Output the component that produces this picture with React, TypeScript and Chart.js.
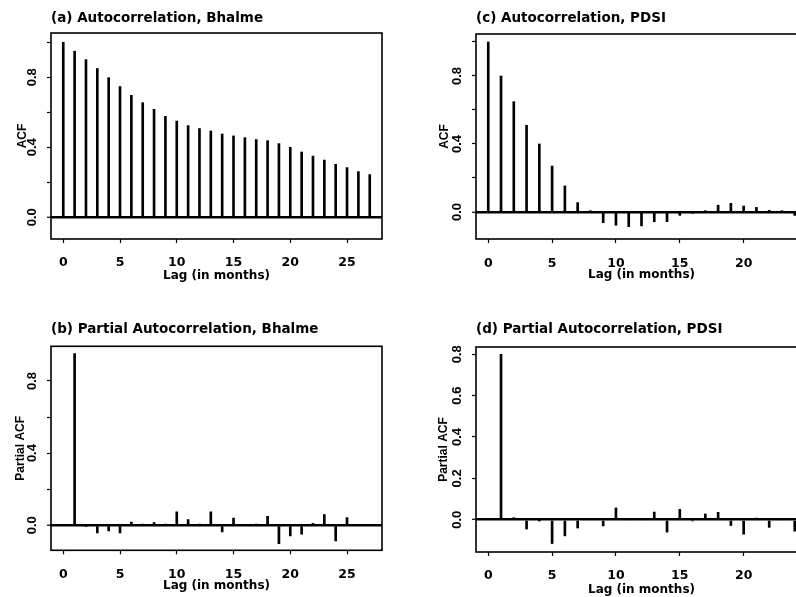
import React, { useEffect, useRef } from 'react';
import { Chart, registerables } from 'chart.js';

Chart.register(...registerables);

// ---------- data ----------
const lagsBhalmeAcf = [0, 1, 2, 3, 4, 5, 6, 7, 8, 9, 10, 11, 12, 13, 14, 15, 16, 17, 18, 19, 20, 21, 22, 23, 24, 25, 26, 27];
const acfBhalme = [1.0, 0.949, 0.901, 0.85, 0.798, 0.747, 0.697, 0.655, 0.617, 0.577, 0.55, 0.524, 0.507, 0.493, 0.476, 0.465, 0.455, 0.444, 0.438, 0.421, 0.4, 0.373, 0.35, 0.327, 0.303, 0.284, 0.261, 0.244];

const lagsBhalmePacf = [1, 2, 3, 4, 5, 6, 7, 8, 9, 10, 11, 12, 13, 14, 15, 16, 17, 18, 19, 20, 21, 22, 23, 24, 25];
const pacfBhalme = [0.951, -0.005, -0.043, -0.032, -0.043, 0.018, 0.003, 0.015, 0.002, 0.074, 0.031, 0.005, 0.074, -0.037, 0.04, 0.0, 0.002, 0.05, -0.102, -0.059, -0.05, 0.01, 0.059, -0.087, 0.042];

const lagsPdsiAcf = [0, 1, 2, 3, 4, 5, 6, 7, 8, 9, 10, 11, 12, 13, 14, 15, 16, 17, 18, 19, 20, 21, 22, 23, 24];
const acfPdsi = [1.0, 0.8, 0.649, 0.51, 0.4, 0.27, 0.153, 0.055, 0.005, -0.063, -0.078, -0.086, -0.082, -0.057, -0.057, -0.02, -0.005, 0.005, 0.04, 0.051, 0.035, 0.027, 0.01, 0.003, -0.02];

const lagsPdsiPacf = [1, 2, 3, 4, 5, 6, 7, 8, 9, 10, 11, 12, 13, 14, 15, 16, 17, 18, 19, 20, 21, 22, 23, 24];
const pacfPdsi = [0.8, 0.01, -0.045, -0.003, -0.115, -0.078, -0.04, 0.005, -0.03, 0.057, 0.0, 0.0, 0.037, -0.06, 0.05, -0.005, 0.028, 0.036, -0.028, -0.07, 0.008, -0.037, 0.0, -0.055];

const titles = [
  '(a) Autocorrelation, Bhalme',
  '(b) Partial Autocorrelation, Bhalme',
  '(c) Autocorrelation, PDSI',
  '(d) Partial Autocorrelation, PDSI',
];
const yTitles = ['ACF', 'Partial ACF', 'ACF', 'Partial ACF'];
const xTitle = 'Lag (in months)';
const yLabelsSparse = ['0.0', '0.4', '0.8'];
const yLabelsFull = ['0.0', '0.2', '0.4', '0.6', '0.8'];

// ---------- layout (positions / styles) ----------
type Spec = {
  title: string; yTitle: string; lags: number[]; values: number[]; yLabels: string[];
  left: number; top: number; w: number; h: number;
  xMin: number; xMax: number; yMin: number; yMax: number;
  yAxisW: number; xAxisH: number; padRight: number;
  titlePadTop: number; titlePadBottom: number;
  yTitlePad: number; xTitlePadBottom: number; xTickPad: number;
};

const specs: Spec[] = [
  {
    title: titles[0], yTitle: yTitles[0], lags: lagsBhalmeAcf, values: acfBhalme, yLabels: yLabelsSparse,
    left: 0, top: 0, w: 400, h: 297, xMin: -1.08, xMax: 28.08, yMin: -0.124, yMax: 1.053,
    yAxisW: 51, xAxisH: 58, padRight: 18, titlePadTop: 9.9, titlePadBottom: 6.9,
    yTitlePad: 15.3, xTitlePadBottom: 14.3, xTickPad: 12.5,
  },
  {
    title: titles[1], yTitle: yTitles[1], lags: lagsBhalmePacf, values: pacfBhalme, yLabels: yLabelsSparse,
    left: 0, top: 297, w: 400, h: 300, xMin: -1.08, xMax: 28.08, yMin: -0.139, yMax: 0.992,
    yAxisW: 51, xAxisH: 46.7, padRight: 18, titlePadTop: 24.4, titlePadBottom: 8.7,
    yTitlePad: 13.8, xTitlePadBottom: 3.8, xTickPad: 12.5,
  },
  {
    title: titles[2], yTitle: yTitles[2], lags: lagsPdsiAcf, values: acfPdsi, yLabels: yLabelsSparse,
    left: 400, top: 0, w: 420, h: 297, xMin: -0.96, xMax: 24.96, yMin: -0.159, yMax: 1.047,
    yAxisW: 76, xAxisH: 58, padRight: 13, titlePadTop: 9.9, titlePadBottom: 7.9,
    yTitlePad: 37.8, xTitlePadBottom: 14.8, xTickPad: 13.5,
  },
  {
    title: titles[3], yTitle: yTitles[3], lags: lagsPdsiPacf, values: pacfPdsi, yLabels: yLabelsFull,
    left: 400, top: 297, w: 420, h: 300, xMin: -0.96, xMax: 24.96, yMin: -0.156, yMax: 0.835,
    yAxisW: 76, xAxisH: 45, padRight: 13, titlePadTop: 24.4, titlePadBottom: 9.4,
    yTitlePad: 36.8, xTitlePadBottom: 0, xTickPad: 11.8,
  },
];

const boxPlugin = {
  id: 'plotBox',
  afterDatasetsDraw(chart: any) {
    const { ctx, chartArea } = chart;
    const { left, top, right, bottom } = chartArea;
    ctx.save();
    ctx.strokeStyle = '#000';
    ctx.lineWidth = 1.6;
    ctx.strokeRect(left, top, right - left, bottom - top);
    ctx.restore();
  },
};

const isZero = (v: number) => Math.abs(v) < 1e-9;

function Panel({ spec }: { spec: Spec }) {
  const ref = useRef<HTMLCanvasElement | null>(null);
  useEffect(() => {
    if (!ref.current) return;
    const chart = new Chart(ref.current, {
      type: 'bar',
      data: {
        datasets: [
          {
            data: spec.lags.map((lag, i) => ({ x: lag, y: spec.values[i] })),
            backgroundColor: '#000',
            borderWidth: 0,
            barThickness: 2,
            grouped: false,
          } as any,
        ],
      },
      options: {
        animation: false,
        responsive: false,
        devicePixelRatio: 1,
        events: [],
        layout: { padding: { left: 0, top: 0, right: spec.padRight, bottom: 0 } },
        plugins: {
          legend: { display: false },
          tooltip: { enabled: false },
          title: {
            display: true,
            text: spec.title,
            align: 'start',
            fullSize: false,
            color: '#000',
            font: { family: 'DejaVu Sans', weight: 'bold', size: 13.5 },
            padding: { top: spec.titlePadTop, bottom: spec.titlePadBottom },
          },
        },
        scales: {
          x: {
            type: 'linear',
            min: spec.xMin,
            max: spec.xMax,
            offset: false,
            afterFit: (s: any) => { s.height = spec.xAxisH; },
            ticks: {
              stepSize: 5,
              includeBounds: false,
              autoSkip: false,
              maxRotation: 0,
              minRotation: 0,
              padding: spec.xTickPad,
              color: '#000',
              font: { family: 'DejaVu Sans', weight: 'bold', size: 12.5 },
              callback: (v: any) => String(Math.round(Number(v))),
            },
            grid: {
              drawOnChartArea: false,
              offset: false,
              tickLength: 4,
              tickWidth: 1.2,
              tickColor: '#000',
              color: '#000',
            },
            border: { display: false },
            title: {
              display: true,
              text: xTitle,
              color: '#000',
              font: { family: 'DejaVu Sans', weight: 'bold', size: 12 },
              padding: { top: 0, bottom: spec.xTitlePadBottom },
            },
          } as any,
          y: {
            type: 'linear',
            min: spec.yMin,
            max: spec.yMax,
            afterFit: (s: any) => { s.width = spec.yAxisW; },
            ticks: {
              stepSize: 0.2,
              includeBounds: false,
              autoSkip: false,
              minRotation: 90,
              maxRotation: 90,
              crossAlign: 'center',
              padding: 5.5,
              color: '#000',
              font: { family: 'Liberation Sans', weight: 'bold', size: 13 },
              callback: (v: any) => {
                const s = (Math.abs(Number(v)) < 1e-9 ? 0 : Number(v)).toFixed(1);
                return spec.yLabels.includes(s) ? s : '';
              },
            },
            grid: {
              drawOnChartArea: true,
              color: (c: any) => (c.tick && isZero(c.tick.value) ? '#000' : 'rgba(0,0,0,0)'),
              lineWidth: (c: any) => (c.tick && isZero(c.tick.value) ? 2.5 : 1),
              tickLength: 4,
              tickWidth: 1.2,
              tickColor: '#000',
            },
            border: { display: false },
            title: {
              display: true,
              text: spec.yTitle,
              color: '#000',
              font: { family: 'Liberation Sans', weight: 'bold', size: 12 },
              padding: { top: spec.yTitlePad, bottom: 0 },
            },
          } as any,
        },
      } as any,
      plugins: [boxPlugin],
    });
    return () => chart.destroy();
  }, [spec]);

  return (
    <canvas
      ref={ref}
      width={spec.w}
      height={spec.h}
      style={{ position: 'absolute', left: spec.left, top: spec.top, width: spec.w, height: spec.h }}
    />
  );
}

export default function App() {
  return (
    <div
      style={{
        position: 'fixed', left: 0, top: 0, width: 796, height: 597,
        overflow: 'hidden', background: '#fff',
      }}
    >
      {specs.map((s, i) => (
        <Panel key={i} spec={s} />
      ))}
    </div>
  );
}
